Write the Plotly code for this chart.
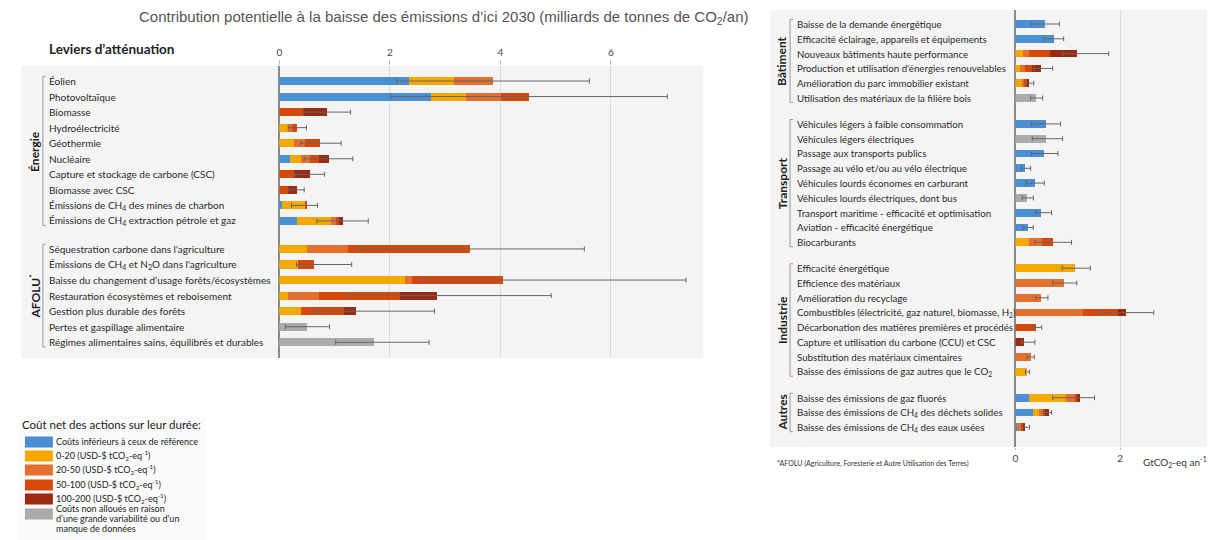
import plotly.graph_objects as go

W, H = 1216, 540

# ---------------- data: left panel (Énergie, AFOLU) ----------------
energie_labels = [
    "Éolien", "Photovoltaïque", "Biomasse", "Hydroélectricité", "Géothermie",
    "Nucléaire", "Capture et stockage de carbone (CSC)", "Biomasse avec CSC",
    "Émissions de CH<sub>4</sub> des mines de charbon",
    "Émissions de CH<sub>4</sub> extraction pétrole et gaz",
]
afolu_labels = [
    "Séquestration carbone dans l'agriculture",
    "Émissions de CH<sub>4</sub> et N<sub>2</sub>O dans l'agriculture",
    "Baisse du changement d’usage forêts/écosystèmes",
    "Restauration écosystèmes et reboisement",
    "Gestion plus durable des forêts",
    "Pertes et gaspillage alimentaire",
    "Régimes alimentaires sains, équilibrés et durables",
]
left_blue     = [2.35, 2.75, 0, 0, 0, 0.19, 0, 0, 0.05, 0.32, 0, 0, 0, 0, 0, 0, 0]
left_c0_20    = [0.82, 0.63, 0, 0.16, 0.28, 0.21, 0, 0, 0.42, 0.62, 0.51, 0.35, 2.28, 0.16, 0.39, 0, 0]
left_c20_50   = [0.70, 0.64, 0, 0.07, 0.19, 0.16, 0, 0, 0, 0.10, 0.74, 0, 0.13, 0.57, 0, 0, 0]
left_c50_100  = [0, 0.50, 0.44, 0.10, 0.28, 0.17, 0.28, 0.17, 0.04, 0.04, 2.20, 0.29, 1.64, 1.46, 0.78, 0, 0]
left_c100_200 = [0, 0, 0.43, 0, 0, 0.17, 0.28, 0.15, 0, 0.08, 0, 0, 0, 0.66, 0.22, 0, 0]
left_gray     = [0, 0, 0, 0, 0, 0, 0, 0, 0, 0, 0, 0, 0, 0, 0, 0.51, 1.72]
left_low  = [2.12, 2.02, 0.44, 0.16, 0.38, 0.45, 0.28, 0.16, 0.22, 0.68, 1.42, 0.31, 2.55, 1.22, 0.62, 0.11, 1.02]
left_high = [5.61, 7.02, 1.29, 0.49, 1.12, 1.33, 0.82, 0.45, 0.69, 1.61, 5.52, 1.31, 7.36, 4.92, 2.81, 0.91, 2.71]
left_ticks = [0, 2, 4, 6]

# ---------------- data: right panel (Bâtiment, Transport, Industrie, Autres) ----------------
batiment_labels = [
    "Baisse de la demande énergétique",
    "Efficacité éclairage, appareils et équipements",
    "Nouveaux bâtiments haute performance",
    "Production et utilisation d'énergies renouvelables",
    "Amélioration du parc immobilier existant",
    "Utilisation des matériaux de la filière bois",
]
transport_labels = [
    "Véhicules légers à faible consommation",
    "Véhicules légers électriques",
    "Passage aux transports publics",
    "Passage au vélo et/ou au vélo électrique",
    "Véhicules lourds économes en carburant",
    "Véhicules lourds électriques, dont bus",
    "Transport maritime - efficacité et optimisation",
    "Aviation - efficacité énergétique",
    "Biocarburants",
]
industrie_labels = [
    "Efficacité énergétique",
    "Efficience des matériaux",
    "Amélioration du recyclage",
    "Combustibles (électricité, gaz naturel, biomasse, H<sub>2</sub>)",
    "Décarbonation des matières premières et procédés",
    "Capture et utilisation du carbone (CCU) et CSC",
    "Substitution des matériaux cimentaires",
    "Baisse des émissions de gaz autres que le CO<sub>2</sub>",
]
autres_labels = [
    "Baisse des émissions de gaz fluorés",
    "Baisse des émissions de CH<sub>4</sub> des déchets solides",
    "Baisse des émissions de CH<sub>4</sub> des eaux usées",
]
right_blue     = [0.57, 0.74, 0, 0, 0, 0,  0.60, 0, 0.55, 0.20, 0.38, 0, 0.49, 0.24, 0,
                  0, 0, 0, 0, 0, 0, 0, 0,  0.27, 0.35, 0.04]
right_c0_20    = [0, 0, 0.16, 0.10, 0.13, 0,  0, 0, 0, 0, 0, 0, 0, 0, 0.27,
                  1.15, 0, 0, 0, 0, 0, 0, 0.23,  0.70, 0.11, 0]
right_c20_50   = [0, 0, 0.11, 0.09, 0.05, 0,  0, 0, 0, 0, 0, 0, 0, 0, 0.24,
                  0, 0.94, 0.49, 1.30, 0, 0, 0.30, 0,  0.17, 0.07, 0.08]
right_c50_100  = [0, 0, 0.40, 0.13, 0.05, 0,  0, 0, 0, 0, 0, 0, 0, 0, 0.21,
                  0, 0, 0, 0.67, 0.40, 0, 0, 0,  0.04, 0.04, 0.04]
right_c100_200 = [0, 0, 0.52, 0.17, 0.04, 0,  0, 0, 0, 0, 0, 0, 0, 0, 0,
                  0, 0, 0, 0.14, 0, 0.17, 0, 0,  0.07, 0.07, 0.04]
right_gray     = [0, 0, 0, 0, 0, 0.40,  0, 0.60, 0, 0, 0, 0.23, 0, 0, 0,
                  0, 0, 0, 0, 0, 0, 0, 0,  0, 0, 0]
right_low  = [0.30, 0.55, 0.90, 0.35, 0.21, 0.29,  0.30, 0.32, 0.30, 0.11, 0.20, 0.13, 0.39, 0.14, 0.37,
              0.89, 0.71, 0.39, 1.59, 0.32, 0.12, 0.22, 0.19,  0.71, 0.54, 0.13]
right_high = [0.84, 0.92, 1.78, 0.71, 0.35, 0.52,  0.86, 0.90, 0.81, 0.29, 0.55, 0.34, 0.69, 0.34, 1.07,
              1.43, 1.17, 0.62, 2.64, 0.50, 0.37, 0.36, 0.27,  1.51, 0.69, 0.27]
right_ticks = [0, 2]

cost_classes = [
    ["Coûts inférieurs à ceux de référence"],
    ["0-20 (USD-$ tCO<sub>2</sub>-eq<sup>-1</sup>)"],
    ["20-50 (USD-$ tCO<sub>2</sub>-eq<sup>-1</sup>)"],
    ["50-100 (USD-$ tCO<sub>2</sub>-eq<sup>-1</sup>)"],
    ["100-200 (USD-$ tCO<sub>2</sub>-eq<sup>-1</sup>)"],
    ["Coûts non alloués en raison", "d’une grande variabilité ou d’un", "manque de données"],
]
cost_colors = ["#4a8ed6", "#f4a900", "#e3702e", "#d54a0a", "#9a2a12", "#ababab"]

FONT = "Lato"
TXT = "#2a2a2a"


def positions(groups, gap):
    """Row positions for consecutive groups, with an extra gap between groups."""
    pos, start = [], 0.0
    for g in groups:
        pos.append([start + i for i in range(len(g))])
        start += len(g) + gap
    return pos


left_groups = [energie_labels, afolu_labels]
right_groups = [batiment_labels, transport_labels, industrie_labels, autres_labels]
left_pos_g = positions(left_groups, 0.8)
right_pos_g = positions(right_groups, 0.75)
left_pos = [p for g in left_pos_g for p in g]
right_pos = [p for g in right_pos_g for p in g]

fig = go.Figure()

left_series = [left_blue, left_c0_20, left_c20_50, left_c50_100, left_c100_200, left_gray]
right_series = [right_blue, right_c0_20, right_c20_50, right_c50_100, right_c100_200, right_gray]

for vals, col in zip(left_series, cost_colors):
    fig.add_trace(go.Bar(x=vals, y=left_pos, orientation="h", width=0.52,
                         marker=dict(color=col, line=dict(width=0)),
                         xaxis="x", yaxis="y", showlegend=False, hoverinfo="skip"))
for vals, col in zip(right_series, cost_colors):
    fig.add_trace(go.Bar(x=vals, y=right_pos, orientation="h", width=0.52,
                         marker=dict(color=col, line=dict(width=0)),
                         xaxis="x2", yaxis="y2", showlegend=False, hoverinfo="skip"))


def err_trace(lo, hi, ypos, xa, ya):
    mid = [(a + b) / 2 for a, b in zip(lo, hi)]
    half = [(b - a) / 2 for a, b in zip(lo, hi)]
    return go.Scatter(x=mid, y=ypos, mode="markers",
                      marker=dict(size=1, color="rgba(0,0,0,0)"),
                      error_x=dict(type="data", array=half, symmetric=True,
                                   color="#666666", thickness=1, width=2.5),
                      xaxis=xa, yaxis=ya, showlegend=False, hoverinfo="skip")


fig.add_trace(err_trace(left_low, left_high, left_pos, "x", "y"))
fig.add_trace(err_trace(right_low, right_high, right_pos, "x2", "y2"))

# ---------------- geometry of the two panels (pixels) ----------------
L_X0, L_X1, L_Y0, L_Y1 = 277, 702, 66, 358     # left plot area
R_X0, R_X1, R_Y0, R_Y1 = 1015, 1207, 10, 447   # right plot area
L_PX_PER_ROW = 15.55
R_PX_PER_ROW = 14.8
L_FIRST_ROW_Y = 81
R_FIRST_ROW_Y = 24
L_UNIT = 55.4
R_UNIT = 52.5


def px(x):
    return x / W


def py(y):
    return 1 - y / H


axis_common = dict(showline=False, zeroline=True, zerolinecolor="#8a8a8a",
                   zerolinewidth=1.6, gridcolor="#dcdcdc", gridwidth=1,
                   tickfont=dict(family=FONT, size=10, color="#444"), fixedrange=True)

fig.update_layout(
    width=W, height=H, margin=dict(l=0, r=0, t=0, b=0),
    paper_bgcolor="white", plot_bgcolor="rgba(0,0,0,0)",
    barmode="stack", bargap=0, showlegend=False,
    xaxis=dict(domain=[px(L_X0), px(L_X1)], range=[0, (L_X1 - L_X0) / L_UNIT],
               side="top", tickvals=left_ticks, ticks="outside", ticklen=5,
               tickcolor="#bbbbbb", anchor="y", **axis_common),
    yaxis=dict(domain=[py(L_Y1), py(L_Y0)],
               range=[(L_Y1 - L_FIRST_ROW_Y) / L_PX_PER_ROW, (L_Y0 - L_FIRST_ROW_Y) / L_PX_PER_ROW],
               showticklabels=False, showgrid=False, zeroline=False, anchor="x", fixedrange=True),
    xaxis2=dict(domain=[px(R_X0), px(R_X1)], range=[0, (R_X1 - R_X0) / R_UNIT],
                side="bottom", tickvals=right_ticks, ticks="outside", ticklen=2,
                tickcolor="#bbbbbb", anchor="y2", **axis_common),
    yaxis2=dict(domain=[py(R_Y1), py(R_Y0)],
                range=[(R_Y1 - R_FIRST_ROW_Y) / R_PX_PER_ROW, (R_Y0 - R_FIRST_ROW_Y) / R_PX_PER_ROW],
                showticklabels=False, showgrid=False, zeroline=False, anchor="x2", fixedrange=True),
)

shapes = []
# panel backgrounds
shapes.append(dict(type="rect", xref="paper", yref="paper", x0=px(18), x1=px(L_X1),
                   y0=py(L_Y1), y1=py(L_Y0), fillcolor="#f4f4f4", line=dict(width=0), layer="below"))
shapes.append(dict(type="rect", xref="paper", yref="paper", x0=px(769), x1=px(R_X1),
                   y0=py(R_Y1), y1=py(R_Y0), fillcolor="#f4f4f4", line=dict(width=0), layer="below"))
# legend box
shapes.append(dict(type="rect", xref="paper", yref="paper", x0=px(16), x1=px(203),
                   y0=py(540), y1=py(415), fillcolor="#fafafa", line=dict(width=0), layer="below"))

annotations = []


def row_labels(groups, pos_g, x_text, yref, size):
    for labels, pos in zip(groups, pos_g):
        for lab, p in zip(labels, pos):
            annotations.append(dict(text=lab, x=px(x_text), xref="paper", y=p, yref=yref,
                                    xanchor="left", yanchor="middle", showarrow=False,
                                    font=dict(family=FONT, size=size, color=TXT)))


def group_labels(names, pos_g, x_name, x_br, yref):
    for name, pos in zip(names, pos_g):
        y0, y1 = pos[0] - 0.3, pos[-1] + 0.3
        annotations.append(dict(text="<b>%s</b>" % name, x=px(x_name), xref="paper",
                                y=(pos[0] + pos[-1]) / 2, yref=yref, textangle=-90,
                                xanchor="center", yanchor="middle", showarrow=False,
                                font=dict(family=FONT, size=12, color="#222")))
        xa, xb = px(x_br), px(x_br + 3)
        shapes.append(dict(type="path", xref="paper", yref=yref,
                           path=f"M {xb},{y0} L {xa},{y0} L {xa},{y1} L {xb},{y1}",
                           line=dict(color="#9a9a9a", width=1)))


row_labels(left_groups, left_pos_g, 44, "y", 10)
row_labels(right_groups, right_pos_g, 794, "y2", 9.7)
group_labels(["Énergie", "AFOLU<sup>*</sup>"], left_pos_g, 32, 40, "y")
group_labels(["Bâtiment", "Transport", "Industrie", "Autres"], right_pos_g, 781, 789, "y2")

# titles and notes
annotations.append(dict(text="Contribution potentielle à la baisse des émissions d’ici 2030 (milliards de tonnes de CO<sub>2</sub>/an)",
                        x=px(442), y=py(18), xref="paper", yref="paper", showarrow=False,
                        xanchor="center", yanchor="middle",
                        font=dict(family="Liberation Sans", size=15, color="#555")))
annotations.append(dict(text="<b>Leviers d’atténuation</b>", x=px(44), y=py(49), xref="paper", yref="paper",
                        showarrow=False, xanchor="left", yanchor="middle",
                        font=dict(family=FONT, size=13.5, color="#222")))
annotations.append(dict(text="GtCO<sub>2</sub>-eq an<sup>-1</sup>", x=px(1141), y=py(462), xref="paper", yref="paper",
                        showarrow=False, xanchor="left", yanchor="middle",
                        font=dict(family=FONT, size=10, color="#333")))
annotations.append(dict(text="*AFOLU (Agriculture, Foresterie et Autre Utilisation des Terres)",
                        x=px(774), y=py(463), xref="paper", yref="paper",
                        showarrow=False, xanchor="left", yanchor="middle",
                        font=dict(family=FONT, size=7, color="#333")))

# cost legend
annotations.append(dict(text="Coût net des actions sur leur durée:", x=px(17), y=py(424), xref="paper", yref="paper",
                        showarrow=False, xanchor="left", yanchor="middle",
                        font=dict(family=FONT, size=11.5, color="#222")))
legend_rows_y = [442, 456, 470, 485, 499, 514]
for lines, col, yy in zip(cost_classes, cost_colors, legend_rows_y):
    shapes.append(dict(type="rect", xref="paper", yref="paper", x0=px(22), x1=px(50),
                       y0=py(yy + 5.5), y1=py(yy - 5.5), fillcolor=col, line=dict(width=0)))
    first = yy - 3 * (len(lines) - 1) + (0.5 if len(lines) > 1 else -0.5)
    for k, line in enumerate(lines):
        annotations.append(dict(text=line, x=px(51), y=py(first + 10 * k), xref="paper", yref="paper",
                                showarrow=False, xanchor="left", yanchor="middle", align="left",
                                font=dict(family=FONT, size=9, color="#222")))

fig.update_layout(shapes=shapes, annotations=annotations)
fig.write_html("out.html")
